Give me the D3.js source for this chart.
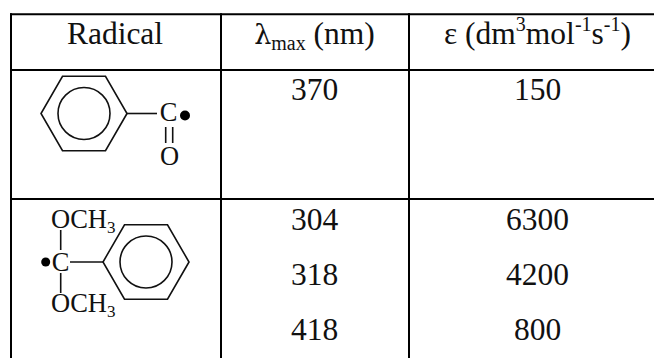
<!DOCTYPE html>
<meta charset="utf-8">
<style>
  html, body { margin: 0; background: #fff; }
  svg { display: block; }
  text { font-family: "Liberation Serif", serif; fill: #111; }
</style>
<svg width="654" height="358"></svg>
<script src="https://d3js.org/d3.v7.min.js"></script>
<script>

// table content
var columns = ["Radical", "lambda", "epsilon"]
var benzoylLambda = [370]
var benzoylEpsilon = [150]
var acetalLambda = [304, 318, 418]
var acetalEpsilon = [6300, 4200, 800]

var svg = d3.select("svg")

// grid lines
var colEdges = [11, 221, 409]
var rowEdges = [14.3, 70, 199]

var x = d3.scaleOrdinal().domain(columns).range([115, 314.5, 537.5])
var acetalY = d3.scalePoint().domain([0, 1, 2]).range([230, 340])

var grid = svg.append("g").attr("stroke", "#000").attr("stroke-width", 2)
colEdges.forEach(function (c) {
  grid.append("line").attr("x1", c).attr("x2", c).attr("y1", rowEdges[0] - 1).attr("y2", 358)
})
rowEdges.forEach(function (r) {
  grid.append("line").attr("x1", colEdges[0] - 1).attr("x2", 654).attr("y1", r).attr("y2", r)
})

function label(cx, y, size, anchor) {
  return svg.append("text").attr("x", cx).attr("y", y)
    .attr("font-size", size).attr("text-anchor", anchor || "middle")
}

// header
label(x("Radical"), 44, 31.5).text("Radical")

var lam = label(x("lambda"), 44, 31.5)
lam.append("tspan").attr("font-family", "DejaVu Serif").attr("font-size", 27).text("λ")
lam.append("tspan").attr("font-size", 20).attr("dy", 6).text("max")
lam.append("tspan").attr("dy", -6).text(" (nm)")

var eps = label(x("epsilon"), 44, 31.5)
eps.append("tspan").text("ε (dm")
eps.append("tspan").attr("font-size", 20).attr("dy", -13).text("3")
eps.append("tspan").attr("dy", 13).text("mol")
eps.append("tspan").attr("font-size", 20).attr("dy", -13).text("-1")
eps.append("tspan").attr("dy", 13).text("s")
eps.append("tspan").attr("font-size", 20).attr("dy", -13).text("-1")
eps.append("tspan").attr("dy", 13).text(")")

// values
label(x("lambda"), 100, 31.5).text(benzoylLambda[0])
label(x("epsilon"), 100, 31.5).text(benzoylEpsilon[0])

acetalLambda.forEach(function (v, i) {
  label(x("lambda"), acetalY(i), 31.5).text(v)
})
acetalEpsilon.forEach(function (v, i) {
  label(x("epsilon"), acetalY(i), 31.5).text(v)
})

// benzene ring
function ring(cx, cy) {
  var g = svg.append("g").attr("fill", "none").attr("stroke", "#111").attr("stroke-width", 1.6)
  var hex = d3.range(6).map(function (i) {
    var a = i * Math.PI / 3
    return [cx + 43 * Math.cos(a), cy + 43 * Math.sin(a)]
  })
  g.append("path").attr("d", d3.line()(hex) + "Z")
  g.append("circle").attr("cx", cx).attr("cy", cy).attr("r", 26)
}

function bond(x1, y1, x2, y2) {
  svg.append("line").attr("x1", x1).attr("y1", y1).attr("x2", x2).attr("y2", y2)
    .attr("stroke", "#111").attr("stroke-width", 1.6)
}

function dot(cx, cy, r) {
  svg.append("circle").attr("cx", cx).attr("cy", cy).attr("r", r).attr("fill", "#000")
}

// benzoyl radical
ring(84, 113.5)
bond(127, 113.5, 157, 113.5)
label(168.5, 121, 26.5).text("C")
dot(185, 115.5, 5)
bond(165.7, 127, 165.7, 143)
bond(172.7, 127, 172.7, 143)
label(169.5, 164.5, 26.5).text("O")

// dimethoxybenzyl radical
ring(146, 262)
bond(103, 262, 70, 262)
label(60.5, 270.5, 26.5).text("C")
dot(45.7, 262, 4.5)
bond(60.7, 230, 60.7, 250)
bond(60.7, 273, 60.7, 293)

function och3(px, py) {
  var t = label(px, py, 26.5, "start")
  t.append("tspan").text("OCH")
  t.append("tspan").attr("font-size", 17).attr("dy", 5).text("3")
}
och3(51, 227.5)
och3(51, 312)

</script>
